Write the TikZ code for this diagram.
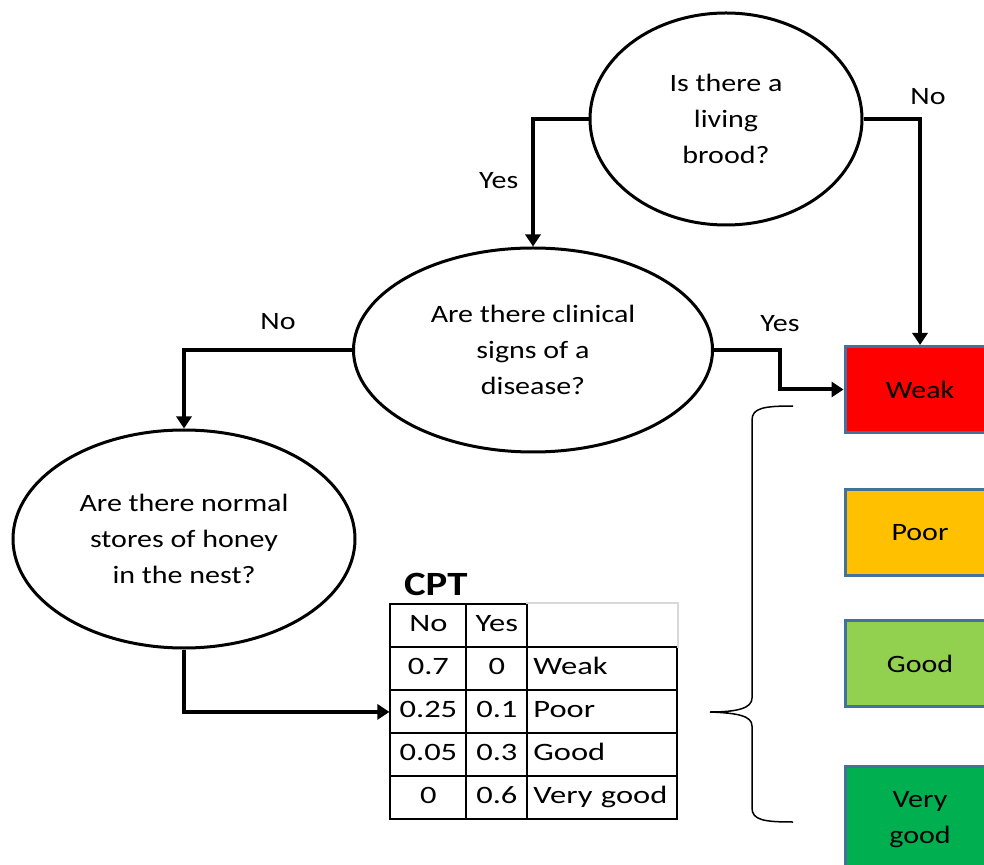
\documentclass[tikz,border=0pt]{standalone}
\usepackage{fontspec}
\setmainfont{Carlito}[FakeStretch=1.2]
\newfontfamily\cptfont{Carlito}[FakeStretch=1.3]
\usepackage{xcolor}
\definecolor{cweak}{HTML}{FF0000}
\definecolor{cpoor}{HTML}{FFC000}
\definecolor{cgood}{HTML}{92D050}
\definecolor{cverygood}{HTML}{00B050}
\definecolor{cborder}{HTML}{41719C}
\definecolor{cgrid}{HTML}{D9D9D9}
\usetikzlibrary{shapes.geometric, positioning, matrix, arrows.meta}
\newcommand{\qsize}{\fontsize{12.5pt}{18pt}\selectfont}
\tikzset{
Question/.style={
	draw, ellipse,
	line width=1.5pt,
	align=center,
	inner sep=0pt,
	font=\qsize
},
Outcome/.style={
	draw=cborder,
	line width=1.5pt,
	minimum width=75pt,
	minimum height=43pt,
	align=center,
	font=\qsize
},
Flow/.style={
	draw=black,
	line width=2pt,
	-{Triangle[length=6pt,width=7.5pt]}
},
Answer/.style={
	font=\qsize
},
Brace/.style={
	draw=black,
	line width=0.75pt
},
cell/.style={
	draw,
	line width=1pt,
	inner sep=0pt,
	anchor=center,
	text height=8.5pt,
	text depth=2.5pt,
	minimum height=21.5pt,
	font=\cptfont\qsize
},
table/.style={
	matrix of nodes,
	nodes={cell},
	inner sep=0pt,
	row sep=-1pt,
	column sep=-1pt,
	column 1/.style={nodes={minimum width=38pt}},
	column 2/.style={nodes={minimum width=30.5pt}},
	column 3/.style={nodes={text width=69pt, inner xsep=3pt, align=left}}
}
}

\begin{document}
\begin{tikzpicture}[x=0.5pt, y=-0.5pt]
	\clip (0,0) rectangle (984,865);
	\node[Question, minimum width=136pt, minimum height=106pt] (brood) at (726,119) {Is there a\\living\\brood?};
	\node[Question, minimum width=179.5pt, minimum height=102pt] (disease) at (533,350) {Are there clinical\\signs of a\\disease?};
	\node[Question, minimum width=171pt, minimum height=109pt] (honey) at (184,539) {Are there normal\\stores of honey\\in the nest?};

	\node[Outcome, fill=cweak] (weak) at (920,389.5) {Weak};
	\node[Outcome, fill=cpoor, below=27pt of weak] (poor) {Poor};
	\node[Outcome, fill=cgood, below=21pt of poor] (good) {Good};
	\node[Outcome, fill=cverygood, below=28.5pt of good, minimum height=53pt] (verygood) {Very\\good};

	\matrix (cpt) [table, anchor=north west] at (389,603) {
		No & Yes & |[draw=none]| \strut \\
		0.7 & 0 & Weak \\
		0.25 & 0.1 & Poor \\
		0.05 & 0.3 & Good \\
		0 & 0.6 & Very good \\
	};
	\draw[cgrid, line width=1pt] (cpt-1-3.north west) -- (cpt-1-3.north east) -- (cpt-1-3.south east);
	\node[font=\bfseries\fontsize{17pt}{20pt}\selectfont, above right=0pt and 4pt of cpt.north west] (cptlabel) {CPT};

	\draw[Flow] (brood.west) -| node[Answer, pos=0.74, left=3pt] {Yes} (disease.north);
	\draw[Flow] (brood.east) -| node[Answer, pos=0.5, above=3pt, xshift=4pt] {No} (weak.north);
	\draw[Flow] (disease.east) -- ++(66,0) node[Answer, above=5pt] {Yes} |- (weak.west);
	\draw[Flow] (disease.west) -| node[Answer, pos=0.22, above=6pt] {No} (honey.north);
	\draw[Flow] (honey.south) |- (cpt-3-1.west);

	\draw[Brace] (793,406) .. controls (764,406) and (752,408) .. (752,420) -- (752,698) .. controls (752,708) and (738,712) .. (710,712) .. controls (738,713) and (752,716) .. (752,726) -- (752,808) .. controls (752,820) and (764,822) .. (793,822);
\end{tikzpicture}
\end{document}
